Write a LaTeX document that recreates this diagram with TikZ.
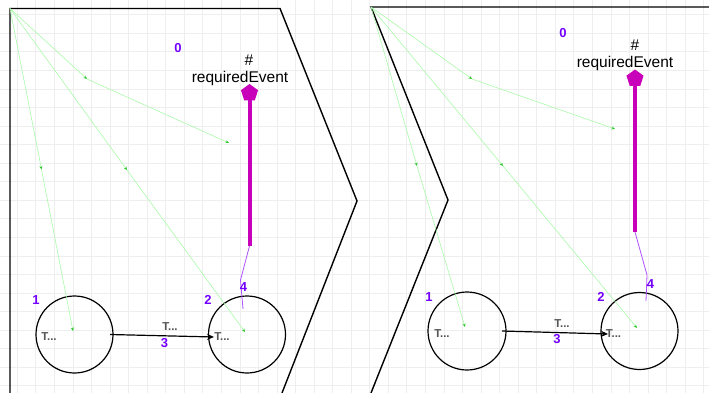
\documentclass[tikz,border=0pt]{standalone}
\usepackage{fontspec}
\setmainfont{Liberation Sans}
\usetikzlibrary{arrows.meta,shapes.geometric}
\definecolor{gridc}{RGB}{238,238,238}
\definecolor{lblc}{RGB}{115,0,255}
\definecolor{magc}{RGB}{200,0,185}
\definecolor{violc}{RGB}{175,80,255}
\definecolor{grnl}{RGB}{170,250,170}
\definecolor{grnt}{RGB}{40,200,40}
\definecolor{tgray}{RGB}{85,85,85}
\tikzset{
  num/.style={text=lblc,font=\fontsize{13}{15}\selectfont\bfseries,inner sep=0},
  tlbl/.style={text=tgray,font=\fontsize{11.5}{13}\selectfont\bfseries,inner sep=0},
  evt/.style={text=black,font=\fontsize{15.5}{17}\selectfont,inner sep=0},
  grn/.style={draw=grnl,line width=0.6pt,-{Stealth[length=3.5pt,width=3pt,color=grnt]}},
  frame/.style={draw=black,line width=1.4pt,line join=miter},
  place/.style={circle,draw=black,line width=1.2pt,inner sep=0},
  pent/.style={regular polygon,regular polygon sides=5,fill=magc,inner sep=0,minimum size=18pt},
  thickln/.style={draw=magc,line width=4pt},
  thinln/.style={draw=violc,line width=0.8pt},
  trans/.style={draw=black,line width=1.2pt,-{Stealth[length=7pt,width=6pt]}}
}
\begin{document}
\begin{tikzpicture}[x=1pt,y=-1pt]
\useasboundingbox (0,0) rectangle (709,393);
\fill[white] (0,0) rectangle (709,393);
% grid
\foreach \i in {1,...,38} {\draw[gridc,line width=0.8pt] ({-1.25+18.55*\i},0) -- ({-1.25+18.55*\i},393);}
\foreach \j in {1,...,21} {\draw[gridc,line width=0.8pt] (0,{-3.75+18.55*\j}) -- (709,{-3.75+18.55*\j});}

% ===== left panel =====
\coordinate (Lbl) at (10,393);
\coordinate (Ltl) at (10,8.5);
\coordinate (Ltr) at (280,8.5);
\coordinate (Lap) at (357,201);
\coordinate (Lbr) at (282,393);
\draw[frame] (Lbl) -- (Ltl) -- (Ltr) -- (Lap) -- (Lbr);

\node[place,minimum size=77pt] (Lc1) at (74.5,334.5) {};
\node[place,minimum size=77pt] (Lc2) at (247,334.5) {};

\coordinate (Lg1m) at (41.5,169.5);
\coordinate (Lg1e) at (73,331);
\coordinate (Lg2m) at (127,170);
\coordinate (Lg2e) at (245,332);
\coordinate (Lg3m) at (87,79);
\coordinate (Lg3e) at (229,143);
\draw[grn] (Ltl) -- (Lg1m); \draw[grn] (Lg1m) -- (Lg1e);
\draw[grn] (Ltl) -- (Lg2m); \draw[grn] (Lg2m) -- (Lg2e);
\draw[grn] (Ltl) -- (Lg3m); \draw[grn] (Lg3m) -- (Lg3e);

\node[num] (L0) at (178,48) {0};
\node[evt] (Lhash) at (249,60) {\#};
\node[evt] (Lreq) at (240,78) {requiredEvent};
\node[pent] (Lpen) at (249.5,93) {};
\coordinate (Lthb) at (249.5,246);
\coordinate (Ltn1) at (240.5,280);
\coordinate (Ltn2) at (243,309);
\draw[thickln] (Lpen.center) -- (Lthb);
\draw[thinln] (Lthb) -- (Ltn1) -- (Ltn2);
\node[num] (L4) at (243.5,287.5) {4};

\node[num] (L1) at (36,300) {1};
\node[num] (L2) at (208,300) {2};
\node[tlbl] (Lt1) at (49,337) {T...};
\node[tlbl] (Lt2) at (222,337) {T...};
\coordinate (La1) at (110,334.5);
\coordinate (La2) at (214,337);
\draw[trans] (La1) -- (La2);
\node[tlbl] (Lt3) at (170,327) {T...};
\node[num] (L3) at (164.5,343) {3};

% ===== right panel =====
\coordinate (Rtr) at (709,7);
\coordinate (Rtl) at (371,7);
\coordinate (Rap) at (448,200);
\coordinate (Rbl) at (371,393);
\draw[frame] (Rtr) -- (Rtl) -- (Rap) -- (Rbl);

\node[place,minimum size=78pt] (Rc1) at (467,331) {};
\node[place,minimum size=77pt] (Rc2) at (639.5,331) {};

\coordinate (Rg1m) at (417,166);
\coordinate (Rg1e) at (465,327);
\coordinate (Rg2m) at (503,166);
\coordinate (Rg2e) at (637,328);
\coordinate (Rg3m) at (472,79);
\coordinate (Rg3e) at (615,129);
\draw[grn] (Rtl) -- (Rg1m); \draw[grn] (Rg1m) -- (Rg1e);
\draw[grn] (Rtl) -- (Rg2m); \draw[grn] (Rg2m) -- (Rg2e);
\draw[grn] (Rtl) -- (Rg3m); \draw[grn] (Rg3m) -- (Rg3e);

\node[num] (R0) at (563,33.5) {0};
\node[evt] (Rhash) at (635,45) {\#};
\node[evt] (Rreq) at (625,63) {requiredEvent};
\node[pent] (Rpen) at (635,78.5) {};
\coordinate (Rthb) at (635,232);
\coordinate (Rtn1) at (647,275);
\coordinate (Rtn2) at (646,301);
\draw[thickln] (Rpen.center) -- (Rthb);
\draw[thinln] (Rthb) -- (Rtn1) -- (Rtn2);
\node[num] (R4) at (650.5,284) {4};

\node[num] (R1) at (429,297) {1};
\node[num] (R2) at (601,297) {2};
\node[tlbl] (Rt1) at (442,333.5) {T...};
\node[tlbl] (Rt2) at (613.5,333.5) {T...};
\coordinate (Ra1) at (502,331);
\coordinate (Ra2) at (608,334);
\draw[trans] (Ra1) -- (Ra2);
\node[tlbl] (Rt3) at (562,323.5) {T...};
\node[num] (R3) at (557,339.5) {3};
\end{tikzpicture}
\end{document}
